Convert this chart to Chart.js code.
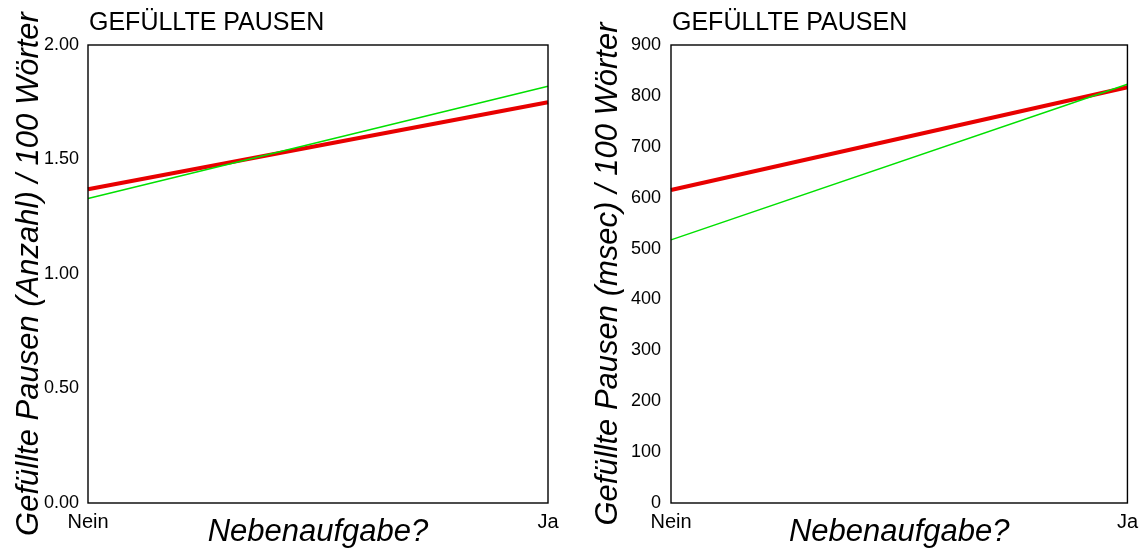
<!DOCTYPE html>
<html>
<head>
<meta charset="utf-8">
<script src="https://cdn.jsdelivr.net/npm/chart.js@4.4.1/dist/chart.umd.min.js"></script>
<style>
    body { margin: 0; background: #fff; }
    .box { position: absolute; top: 0; height: 557px; }
    #links { left: 0; width: 580px; }
    #rechts { left: 580px; width: 565px; }
</style>
</head>
<body>
<div class="box" id="links"><canvas id="anzahl_canva"></canvas></div>
<div class="box" id="rechts"><canvas id="msec_canva"></canvas></div>
<script>
const kategorien = ['Nein', 'Ja'];
const anzahlRot = [1.37, 1.75];
const anzahlGruen = [1.33, 1.82];
const msecRot = [615, 817];
const msecGruen = [517, 823];
const anzahlTicks = [0, 0.5, 1, 1.5, 2];
const msecTicks = [0, 100, 200, 300, 400, 500, 600, 700, 800, 900];

const schrift = 'Liberation Sans, Arial, Helvetica, sans-serif';

// Rahmen um die Zeichenfläche und Überschrift links oben
const rahmen = {
    id: 'rahmen',
    afterDraw(chart) {
        const { ctx, chartArea: a } = chart;
        ctx.save();
        ctx.strokeStyle = '#000';
        ctx.lineWidth = 1.4;
        ctx.strokeRect(a.left, a.top, a.right - a.left, a.bottom - a.top);
        ctx.fillStyle = '#000';
        ctx.font = '25px ' + schrift;
        ctx.textBaseline = 'alphabetic';
        ctx.textAlign = 'left';
        ctx.fillText('GEFÜLLTE PAUSEN', a.left + 1, 30);
        ctx.restore();
    }
};

function diagramm(canvas, rot, gruen, ticks, yTitel, format, breite, rechts, tickAbstand, titelAbstand) {
    new Chart(canvas, {
        type: 'line',
        data: {
            labels: kategorien,
            datasets: [{
                data: gruen,
                borderColor: '#00e000',
                borderWidth: 1.5,
                pointRadius: 0
            }, {
                data: rot,
                borderColor: '#e80000',
                borderWidth: 4,
                pointRadius: 0
            }]
        },
        options: {
            responsive: false,
            animation: false,
            layout: { padding: { top: 45, right: rechts, left: 0, bottom: 0 } },
            plugins: { legend: { display: false }, tooltip: { enabled: false } },
            scales: {
                x: {
                    grid: { display: false, drawTicks: false },
                    border: { display: false },
                    ticks: { color: '#000', font: { family: schrift, size: 20 }, padding: 7, maxRotation: 0 },
                    title: {
                        display: true, text: 'Nebenaufgabe?', color: '#000',
                        font: { family: schrift, size: 31, style: 'italic' },
                        padding: { top: 0, bottom: 6 }
                    },
                    afterFit(s) { s.height = 54; }
                },
                y: {
                    min: ticks[0],
                    max: ticks[ticks.length - 1],
                    afterBuildTicks(s) { s.ticks = ticks.map(v => ({ value: v })); },
                    grid: { display: false, drawTicks: false },
                    border: { display: false },
                    ticks: { color: '#000', font: { family: schrift, size: 18 }, padding: tickAbstand, callback: format },
                    title: {
                        display: true, text: yTitel, color: '#000',
                        font: { family: schrift, size: 31, style: 'italic' },
                        padding: { top: titelAbstand, bottom: 0 }
                    },
                    afterFit(s) { s.width = breite; }
                }
            }
        },
        plugins: [rahmen]
    });
}

const links = document.getElementById('anzahl_canva');
links.width = 580; links.height = 557;
const rechts = document.getElementById('msec_canva');
rechts.width = 565; rechts.height = 557;

diagramm(links, anzahlRot, anzahlGruen, anzahlTicks,
    'Gefüllte Pausen (Anzahl) / 100 Wörter', v => v.toFixed(2), 88, 32, 9, 11);
diagramm(rechts, msecRot, msecGruen, msecTicks,
    'Gefüllte Pausen (msec) / 100 Wörter', v => String(v), 91, 12, 10, 10);
</script>
</body>
</html>
